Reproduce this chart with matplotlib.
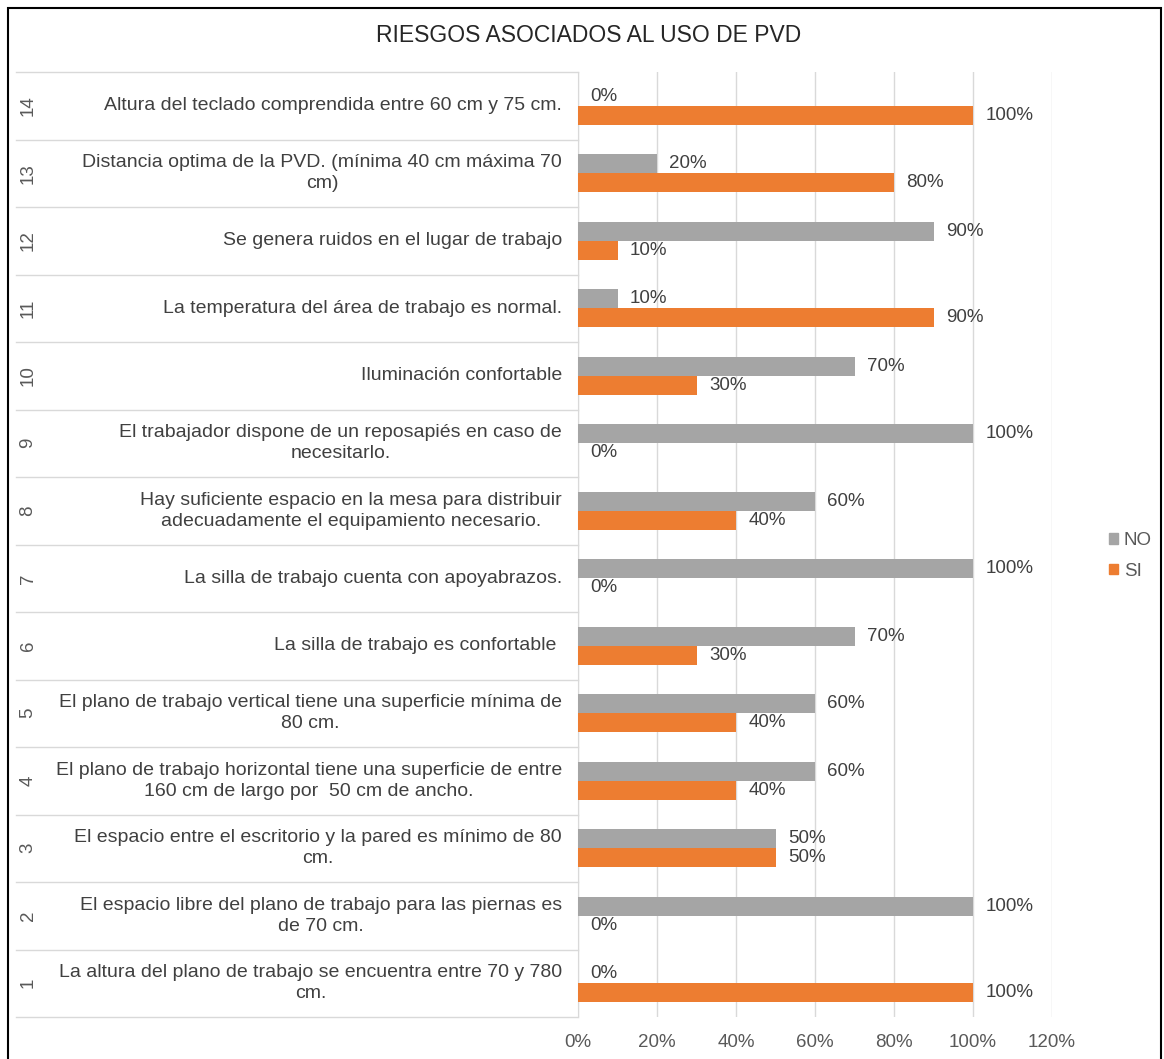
import matplotlib.pyplot as plt
import matplotlib.patches as mpatches
import numpy as np

plt.rcParams['font.family'] = ['Liberation Sans', 'DejaVu Sans']

# categories from bottom (1) to top (14)
numeros = [str(i) for i in range(1, 15)]
descripciones = [
    "La altura del plano de trabajo se encuentra entre 70 y 780\ncm.",
    "El espacio libre del plano de trabajo para las piernas es\nde 70 cm.",
    "El espacio entre el escritorio y la pared es mínimo de 80\ncm.",
    "El plano de trabajo horizontal tiene una superficie de entre\n160 cm de largo por  50 cm de ancho.",
    "El plano de trabajo vertical tiene una superficie mínima de\n80 cm.",
    "La silla de trabajo es confortable ",
    "La silla de trabajo cuenta con apoyabrazos.",
    "Hay suficiente espacio en la mesa para distribuir\nadecuadamente el equipamiento necesario.",
    "El trabajador dispone de un reposapiés en caso de\nnecesitarlo.",
    "Iluminación confortable",
    "La temperatura del área de trabajo es normal.",
    "Se genera ruidos en el lugar de trabajo",
    "Distancia optima de la PVD. (mínima 40 cm máxima 70\ncm)",
    "Altura del teclado comprendida entre 60 cm y 75 cm.",
]
no_vals = [0, 100, 50, 60, 60, 70, 100, 60, 100, 70, 10, 90, 20, 0]
si_vals = [100, 0, 50, 40, 40, 30, 0, 40, 0, 30, 90, 10, 80, 100]
xticks = [0, 20, 40, 60, 80, 100, 120]

gris = '#A5A5A5'
naranja = '#ED7D31'
texto = '#404040'

W, H = 1164, 1059
fig = plt.figure(figsize=(W / 100, H / 100), dpi=100)
ax = fig.add_axes([578 / W, 1 - 1017 / H, (1052 - 578) / W, (1017 - 72) / H])

y = np.arange(len(numeros))
h = 0.28
ax.barh(y + h / 2, no_vals, height=h, color=gris, label='NO', zorder=3)
ax.barh(y - h / 2, si_vals, height=h, color=naranja, label='SI', zorder=3)

for i in range(len(y)):
    ax.annotate(f"{no_vals[i]}%", (no_vals[i], y[i] + h / 2), xytext=(9, 0),
                textcoords='offset points', va='center', ha='left',
                fontsize=13.5, color=texto)
    ax.annotate(f"{si_vals[i]}%", (si_vals[i], y[i] - h / 2), xytext=(9, 0),
                textcoords='offset points', va='center', ha='left',
                fontsize=13.5, color=texto)

ax.set_xlim(0, 120)
ax.set_ylim(-0.5, len(y) - 0.5)
ax.set_xticks(xticks)
ax.set_xticklabels([f"{t}%" for t in xticks], fontsize=13.5, color='#595959')
ax.set_yticks([])
ax.tick_params(axis='x', length=0, pad=12)
ax.grid(axis='x', color='#D9D9D9', linewidth=1, zorder=0)
for s in ['top', 'right', 'bottom']:
    ax.spines[s].set_visible(False)
ax.spines['left'].set_color('#D9D9D9')

# left category table
tr = ax.get_yaxis_transform()
x_line = (16 - 578) / (1052 - 578)
x_num = (28 - 578) / (1052 - 578)
x_desc = (562 - 578) / (1052 - 578)
for b in np.arange(-0.5, len(y), 1.0):
    ax.plot([x_line, 0], [b, b], transform=tr, color='#D9D9D9', lw=1, clip_on=False)
for i in range(len(y)):
    ax.text(x_num, y[i], numeros[i], transform=tr, rotation=90, ha='center',
            va='center', fontsize=13.5, color='#595959')
    ax.text(x_desc, y[i], descripciones[i], transform=tr, ha='right', va='center',
            multialignment='center', fontsize=14, color=texto, linespacing=1.3)

fig.text(589 / W, 1 - 35 / H, "RIESGOS ASOCIADOS AL USO DE PVD", ha='center',
         va='center', fontsize=16.5, color='#262626')

handles = [mpatches.Patch(color=gris, label='NO'), mpatches.Patch(color=naranja, label='SI')]
fig.legend(handles=handles, loc='center left', bbox_to_anchor=(1092 / W, 1 - 556 / H),
           frameon=False, fontsize=13.5, handlelength=0.5, handleheight=0.5,
           handletextpad=0.3, labelcolor='#595959', labelspacing=0.7)

fig.add_artist(mpatches.Rectangle((8 / W, -0.02), (1161 - 8) / W, 1.02 - 8 / H,
                                  transform=fig.transFigure, fill=False,
                                  edgecolor='black', linewidth=1.5))

fig.savefig("out.png", dpi=100)
